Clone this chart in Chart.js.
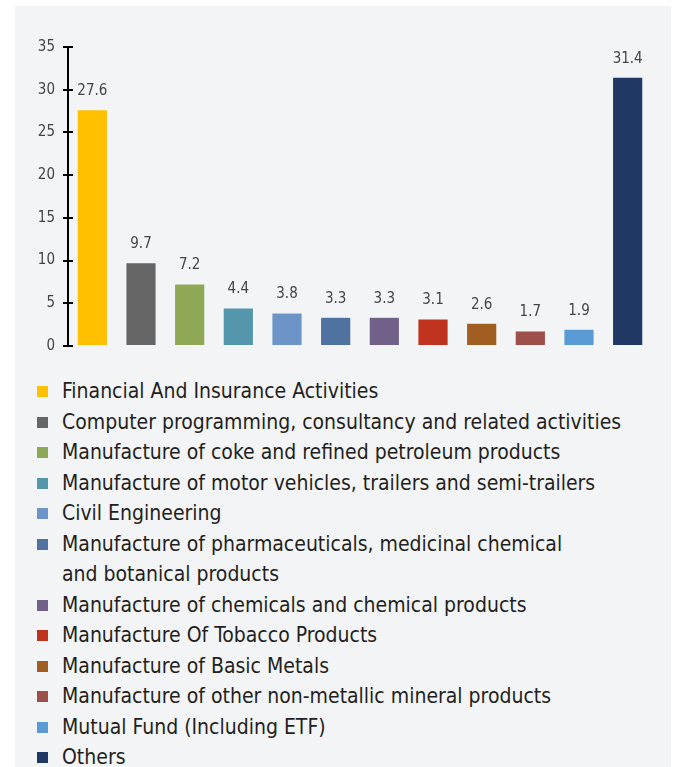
<!DOCTYPE html>
<html>
<head>
<meta charset="utf-8">
<script src="https://cdn.jsdelivr.net/npm/chart.js@4/dist/chart.umd.min.js"></script>
<style>
  html, body { margin: 0; padding: 0; background: #ffffff; }
  #panel { position: absolute; left: 15px; top: 6px; width: 656px; height: 761px; background: #f3f4f6; overflow: hidden; }
  #wrap { position: absolute; left: 0; top: 0; width: 656px; height: 360px; }
  #legend { position: absolute; left: 22px; top: 370px; margin: 0; padding: 0; list-style: none;
    font-family: 'Liberation Sans Narrow', 'DejaVu Sans Condensed', 'Roboto Condensed', sans-serif; font-size: 21px; color: #231f20; }
  #legend li { position: relative; padding-left: 25px; line-height: 30.5px; white-space: nowrap; }
  #legend li span.box { position: absolute; left: 0; top: 10px; width: 11px; height: 11px; }
</style>
</head>
<body>
<div id="panel">
  <div id="wrap"><canvas id="c"></canvas></div>
  <ul id="legend"></ul>
</div>
<script>
const categories = [
  "Financial And Insurance Activities",
  "Computer programming, consultancy and related activities",
  "Manufacture of coke and refined petroleum products",
  "Manufacture of motor vehicles, trailers and semi-trailers",
  "Civil Engineering",
  ["Manufacture of pharmaceuticals, medicinal chemical", "and botanical products"],
  "Manufacture of chemicals and chemical products",
  "Manufacture Of Tobacco Products",
  "Manufacture of Basic Metals",
  "Manufacture of other non-metallic mineral products",
  "Mutual Fund (Including ETF)",
  "Others"
];
const values = [27.6, 9.7, 7.2, 4.4, 3.8, 3.3, 3.3, 3.1, 2.6, 1.7, 1.9, 31.4];
const colors = ["#FFC000", "#666666", "#8FA856", "#5496AB", "#6C94C7", "#4F72A0", "#70608A", "#BE321E", "#A05F20", "#9E4F49", "#5B9BD5", "#203864"];
const yTicks = [0, 5, 10, 15, 20, 25, 30, 35];

const FONT = "'Liberation Sans Narrow', 'DejaVu Sans Condensed', 'Roboto Condensed', sans-serif";

const innerTicks = {
  id: 'innerTicks',
  afterDraw(chart) {
    const s = chart.scales.y, ctx = chart.ctx;
    ctx.save();
    ctx.strokeStyle = '#000'; ctx.lineWidth = 2;
    yTicks.forEach(v => {
      const y = Math.round(s.getPixelForValue(v));
      ctx.beginPath(); ctx.moveTo(s.right, y); ctx.lineTo(s.right + 5, y); ctx.stroke();
    });
    ctx.restore();
  }
};
const valueLabels = {
  id: 'valueLabels',
  afterDatasetsDraw(chart) {
    const ctx = chart.ctx, meta = chart.getDatasetMeta(0);
    ctx.save();
    ctx.fillStyle = '#444'; ctx.font = '15px ' + FONT;
    ctx.textAlign = 'center'; ctx.textBaseline = 'middle';
    meta.data.forEach((bar, i) => {
      ctx.fillText(values[i].toFixed(1), bar.x, bar.y - 19);
    });
    ctx.restore();
  }
};

new Chart(document.getElementById('c'), {
  type: 'bar',
  data: {
    labels: categories,
    datasets: [{ data: values, backgroundColor: colors, borderWidth: 0, categoryPercentage: 1, barPercentage: 0.6 }]
  },
  options: {
    responsive: true, maintainAspectRatio: false, animation: false,
    layout: { padding: { top: 41, bottom: 20, right: 19, left: 0 } },
    plugins: { legend: { display: false }, tooltip: { enabled: false } },
    scales: {
      x: { display: false },
      y: {
        min: 0, max: 35,
        afterFit(s) { s.width = 53; },
        afterBuildTicks(s) { s.ticks = yTicks.map(v => ({ value: v })); },
        border: { display: true, color: '#000', width: 2 },
        grid: { drawOnChartArea: false, color: '#000', lineWidth: 2, tickLength: 5 },
        ticks: { color: '#444', font: { family: FONT, size: 15 }, padding: 8 }
      }
    }
  },
  plugins: [innerTicks, valueLabels]
});

const ul = document.getElementById('legend');
categories.forEach((c, i) => {
  const li = document.createElement('li');
  const b = document.createElement('span'); b.className = 'box'; b.style.background = colors[i];
  li.appendChild(b);
  const lines = Array.isArray(c) ? c : [c];
  lines.forEach((t, k) => { if (k) li.appendChild(document.createElement('br')); li.appendChild(document.createTextNode(t)); });
  ul.appendChild(li);
});
</script>
</body>
</html>
